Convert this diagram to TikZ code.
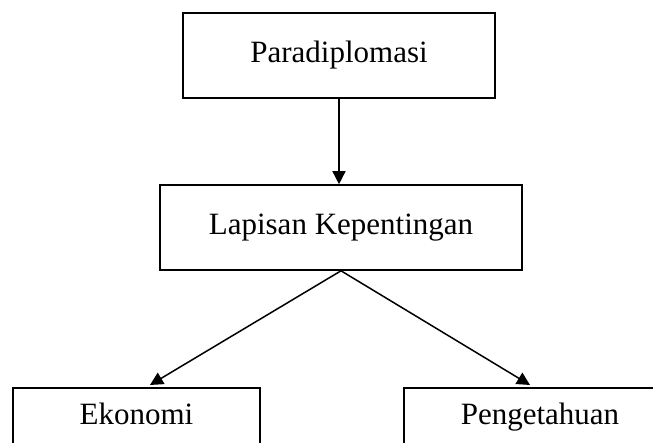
\documentclass[tikz,border=0pt]{standalone}
\usepackage{fontspec}
\setmainfont{Liberation Serif}
\usetikzlibrary{arrows.meta}

\begin{document}
\begin{tikzpicture}[x=1pt,y=-1pt,
  box/.style={draw, line width=1.6pt, minimum height=85pt, inner sep=0pt,
    font=\fontsize{31}{35}\selectfont},
  cutbox/.style={box, text depth=34pt},
  link/.style={line width=1.5pt, -{Triangle[length=13pt,width=13pt]}}]

\useasboundingbox (0,0) rectangle (653,443);

% Boxes
\node[box, minimum width=312pt] (para) at (339,55.5) {Paradiplomasi};
\node[box, minimum width=362pt] (lapis) at (341,227.5) {Lapisan Kepentingan};
\node[cutbox, minimum width=247pt] (eko) at (136.5,430.5) {Ekonomi};
\node[cutbox, minimum width=272pt] (peng) at (540,430.5) {Pengetahuan};

% Arrow ends
\coordinate (ekoTip) at (150,385);
\coordinate (pengTip) at (530,385);

% Arrows
\draw[link] (para.south) -- (para.south |- lapis.north);
\draw[link] (lapis.south) -- (ekoTip);
\draw[link] (lapis.south) -- (pengTip);

\end{tikzpicture}
\end{document}
